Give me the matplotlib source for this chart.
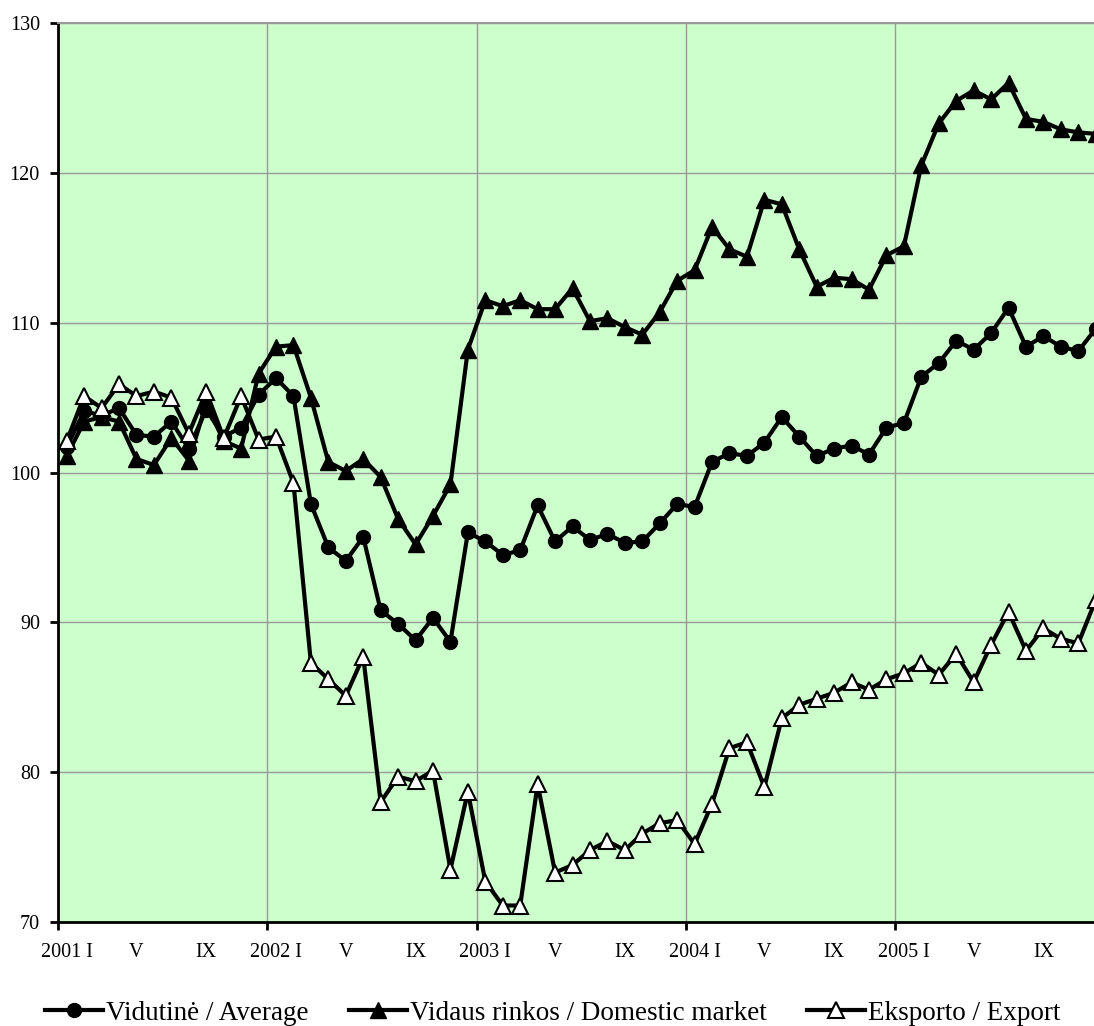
import numpy as np
import matplotlib
matplotlib.use("Agg")
import matplotlib.pyplot as plt

plt.rcParams['font.family'] = ['Liberation Serif', 'DejaVu Serif']

# monthly index values, 2001 I .. 2005 XII
avg = [101.7, 104.1, 103.8, 104.3, 102.5, 102.4, 103.4, 101.6, 104.2, 102.4, 103.0, 105.2,
       106.3, 105.1, 97.9, 95.0, 94.1, 95.7, 90.8, 89.9, 88.8, 90.3, 88.7, 96.0,
       95.4, 94.5, 94.8, 97.8, 95.4, 96.4, 95.5, 95.9, 95.3, 95.4, 96.6, 97.9,
       97.7, 100.7, 101.3, 101.1, 102.0, 103.7, 102.4, 101.1, 101.6, 101.8, 101.2, 103.0,
       103.3, 106.4, 107.3, 108.8, 108.2, 109.3, 111.0, 108.4, 109.1, 108.4, 108.1, 109.6]

dom = [101.1, 103.4, 103.7, 103.4, 100.9, 100.5, 102.3, 100.8, 104.6, 102.1, 101.6, 106.6,
       108.4, 108.5, 105.0, 100.7, 100.1, 100.9, 99.7, 96.9, 95.2, 97.1, 99.2, 108.2,
       111.5, 111.1, 111.5, 110.9, 110.9, 112.3, 110.1, 110.3, 109.7, 109.2, 110.7, 112.8,
       113.5, 116.4, 114.9, 114.4, 118.2, 117.9, 114.9, 112.4, 113.0, 112.9, 112.2, 114.5,
       115.1, 120.5, 123.3, 124.8, 125.5, 124.9, 126.0, 123.6, 123.4, 122.9, 122.7, 122.6]

exp = [102.1, 105.1, 104.3, 105.9, 105.1, 105.4, 105.0, 102.6, 105.4, 102.3, 105.1, 102.2,
       102.4, 99.3, 87.3, 86.2, 85.1, 87.7, 78.0, 79.7, 79.4, 80.1, 73.5, 78.7,
       72.7, 71.1, 71.1, 79.2, 73.3, 73.8, 74.8, 75.4, 74.8, 75.9, 76.6, 76.8,
       75.2, 77.9, 81.6, 82.0, 79.0, 83.6, 84.5, 84.9, 85.3, 86.0, 85.5, 86.2,
       86.6, 87.3, 86.5, 87.9, 86.0, 88.5, 90.7, 88.1, 89.6, 88.9, 88.6, 91.5]

month_labels = ["2001 I", "V", "IX", "2002 I", "V", "IX", "2003 I", "V", "IX",
                "2004 I", "V", "IX", "2005 I", "V", "IX"]

labels = ["Vidutinė / Average", "Vidaus rinkos / Domestic market", "Eksporto / Export"]

x = np.arange(len(avg))

fig = plt.figure(figsize=(10.94, 10.26), dpi=100)
ax = fig.add_axes([58/1094, 1 - 922/1026, 1036/1094, 899/1026])
ax.set_facecolor('#CCFFCC')

ax.plot(x, avg, color='black', lw=3, marker='o', ms=10, mfc='black', mec='black', label=labels[0], zorder=3)
ax.plot(x, dom, color='black', lw=3, marker='^', ms=11, mfc='black', mec='black', label=labels[1], zorder=4)
ax.plot(x, exp, color='black', lw=3, marker='^', ms=11, mfc='white', mec='black', mew=1.5, label=labels[2], zorder=5)

ax.set_yticks(np.arange(70, 131, 10))
ax.yaxis.grid(True, color='#999999', lw=1.0)
ax.tick_params(axis='y', direction='out', length=6, width=2, labelsize=14.5, pad=7)

# year boundaries: ticks + vertical gridlines; labels at month centres
ax.set_xticks(np.arange(-0.5, 50, 12))
ax.set_xticklabels([])
ax.set_xticks(np.arange(0, 60, 4), minor=True)
ax.set_xticklabels(month_labels, minor=True)
ax.tick_params(axis='x', which='major', direction='out', length=6, width=2)
ax.tick_params(axis='x', which='minor', length=0, labelsize=14.5, pad=15)
ax.xaxis.grid(True, which='major', color='#999999', lw=1.0)
ax.set_axisbelow(True)

ax.set_xlim(-0.5, 58.9)
ax.set_ylim(70, 130)

for s in ['left', 'bottom']:
    ax.spines[s].set_linewidth(2)
ax.spines['right'].set_visible(False)
ax.spines['top'].set_color('#999999')
ax.spines['top'].set_linewidth(1.5)

fig.legend(loc='center', bbox_to_anchor=(0.505, 1 - 1013/1026), ncol=3, frameon=False,
           fontsize=19.5, handlelength=2.15, handletextpad=0.1, columnspacing=1.5)

fig.savefig('out.png', dpi=100)
